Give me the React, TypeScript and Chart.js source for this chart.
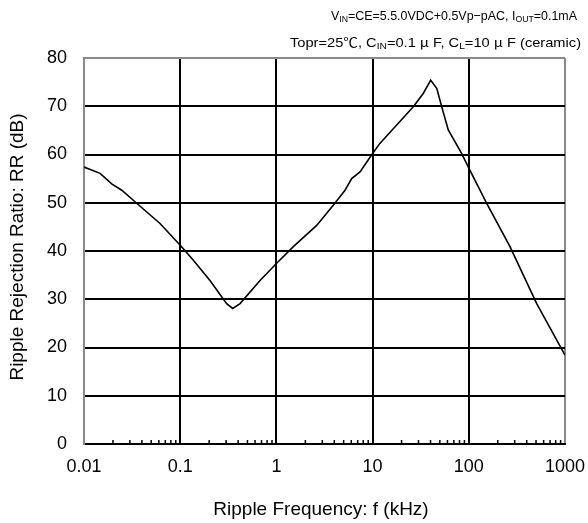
import React, { useEffect, useRef } from "react";
import { Chart, registerables } from "chart.js";

Chart.register(...registerables);

const FREQ_KHZ = [0.01, 0.0147, 0.0194, 0.0247, 0.0353, 0.0617, 0.1, 0.137, 0.204, 0.304, 0.351, 0.419, 0.676, 1.0, 1.5, 2.62, 3.9, 5.17, 6.06, 7.4, 10.0, 11.9, 17.8, 26.5, 33.7, 40.2, 46.4, 53.5, 61.2, 84.4, 98.9, 153, 268, 508, 1000];
const RR_DB = [57.4, 56.1, 53.9, 52.6, 49.9, 45.7, 41.2, 38.1, 33.9, 29.1, 28.1, 29.1, 33.9, 37.4, 40.9, 45.3, 49.5, 52.6, 55.0, 56.4, 60.2, 62.3, 66.1, 69.9, 72.7, 75.4, 73.7, 69.2, 65.1, 60.2, 57.4, 49.9, 40.9, 29.1, 18.4];
const X_TICKS = [0.01, 0.1, 1, 10, 100, 1000];
const Y_MIN = 0;
const Y_MAX = 80;
const Y_STEP = 10;
const X_TITLE = "Ripple Frequency: f (kHz)";
const Y_TITLE = "Ripple Rejection Ratio: RR (dB)";

type Seg = { t: string; sub?: boolean; cjk?: boolean };
const HEADER_1: Seg[] = [
  { t: "V" }, { t: "IN", sub: true }, { t: "=CE=5.5.0VDC+0.5Vp−pAC, I" }, { t: "OUT", sub: true }, { t: "=0.1mA" },
];
const HEADER_2: Seg[] = [
  { t: "Topr=25" }, { t: "℃", cjk: true }, { t: ", C" }, { t: "IN", sub: true }, { t: "=0.1 " }, { t: "μ", cjk: true }, { t: " F, C" }, { t: "L", sub: true }, { t: "=10 " }, { t: "μ", cjk: true }, { t: " F (ceramic)" },
];

const SANS = "'Liberation Sans', Arial, sans-serif";
const GRAY = "#8a8a8a";

function drawSegs(ctx: CanvasRenderingContext2D, segs: Seg[], left: number, right: number, y: number, size: number) {
  const fontFor = (s: Seg) => {
    const sz = s.sub ? size * 0.7 : size;
    return s.cjk ? `${sz}px 'Noto Sans CJK JP', sans-serif` : `${sz}px ${SANS}`;
  };
  let total = 0;
  const widths = segs.map((s) => {
    ctx.font = fontFor(s);
    const w = ctx.measureText(s.t).width;
    total += w;
    return w;
  });
  const k = (right - left) / total;
  ctx.save();
  ctx.translate(left, y);
  ctx.scale(k, 1);
  let x = 0;
  ctx.textAlign = "left";
  ctx.textBaseline = "alphabetic";
  segs.forEach((s, i) => {
    ctx.font = fontFor(s);
    ctx.fillText(s.t, x, s.sub ? size * 0.18 : 0);
    x += widths[i];
  });
  ctx.restore();
}

const annotPlugin = {
  id: "annot",
  afterDraw(chart: any) {
    const ctx = chart.ctx as CanvasRenderingContext2D;
    const area = chart.chartArea;
    const xs = chart.scales.x;
    ctx.save();
    ctx.strokeStyle = "#000";
    ctx.lineWidth = 1.5;
    for (let d = -2; d < 3; d++) {
      for (let k = 2; k <= 9; k++) {
        const v = k * Math.pow(10, d);
        const px = xs.getPixelForValue(v);
        ctx.beginPath();
        ctx.moveTo(px, area.bottom);
        ctx.lineTo(px, area.bottom - 4);
        ctx.stroke();
      }
    }
    ctx.fillStyle = "#000";
    drawSegs(ctx, HEADER_1, 331, 577, 19.5, 13);
    drawSegs(ctx, HEADER_2, 290, 581, 46.5, 13);
    ctx.font = `19px ${SANS}`;
    ctx.textAlign = "center";
    ctx.textBaseline = "middle";
    ctx.fillText(X_TITLE, 321, 510);
    ctx.save();
    ctx.translate(18, (area.top + area.bottom) / 2 - 4);
    ctx.rotate(-Math.PI / 2);
    ctx.fillText(Y_TITLE, 0, 0);
    ctx.restore();
    ctx.restore();
  },
};

export default function App() {
  const ref = useRef<HTMLCanvasElement | null>(null);
  useEffect(() => {
    document.body.style.margin = "0";
    const canvas = ref.current!;
    const chart = new Chart(canvas, {
      type: "line",
      data: {
        datasets: [
          {
            data: FREQ_KHZ.map((f, i) => ({ x: f, y: RR_DB[i] })),
            borderColor: "#000",
            borderWidth: 1.6,
            pointRadius: 0,
            tension: 0,
            fill: false,
          },
        ],
      },
      options: {
        animation: false,
        responsive: false,
        maintainAspectRatio: false,
        layout: { padding: { top: 58, right: 23, left: 0, bottom: 0 } },
        plugins: { legend: { display: false }, tooltip: { enabled: false }, title: { display: false } },
        scales: {
          x: {
            type: "logarithmic",
            min: 0.01,
            max: 1000,
            afterBuildTicks: (s: any) => {
              s.ticks = X_TICKS.map((v) => ({ value: v }));
            },
            afterFit: (s: any) => {
              s.height = 79;
              s.paddingLeft = 0;
              s.paddingRight = 0;
            },
            ticks: {
              autoSkip: false,
              maxRotation: 0,
              padding: 12,
              color: "#000",
              font: { size: 18, family: SANS },
              callback: (v: any) => String(v),
            },
            grid: {
              drawTicks: false,
              lineWidth: 2,
              color: (c: any) => (c.tick && (c.tick.value === 0.01 || c.tick.value === 1000) ? GRAY : "#000"),
            },
            border: { display: true, color: "#000", width: 2 },
          },
          y: {
            min: Y_MIN,
            max: Y_MAX,
            afterFit: (s: any) => {
              s.width = 84;
              s.paddingTop = 0;
              s.paddingBottom = 0;
            },
            ticks: {
              stepSize: Y_STEP,
              padding: 17,
              color: "#000",
              font: { size: 18, family: SANS },
            },
            grid: {
              drawTicks: false,
              lineWidth: 2,
              color: (c: any) => (c.tick && c.tick.value === Y_MAX ? GRAY : "#000"),
            },
            border: { display: true, color: GRAY, width: 2 },
          },
        },
      },
      plugins: [annotPlugin],
    });
    return () => chart.destroy();
  }, []);
  return <canvas ref={ref} width={588} height={523} style={{ display: "block" }} />;
}
